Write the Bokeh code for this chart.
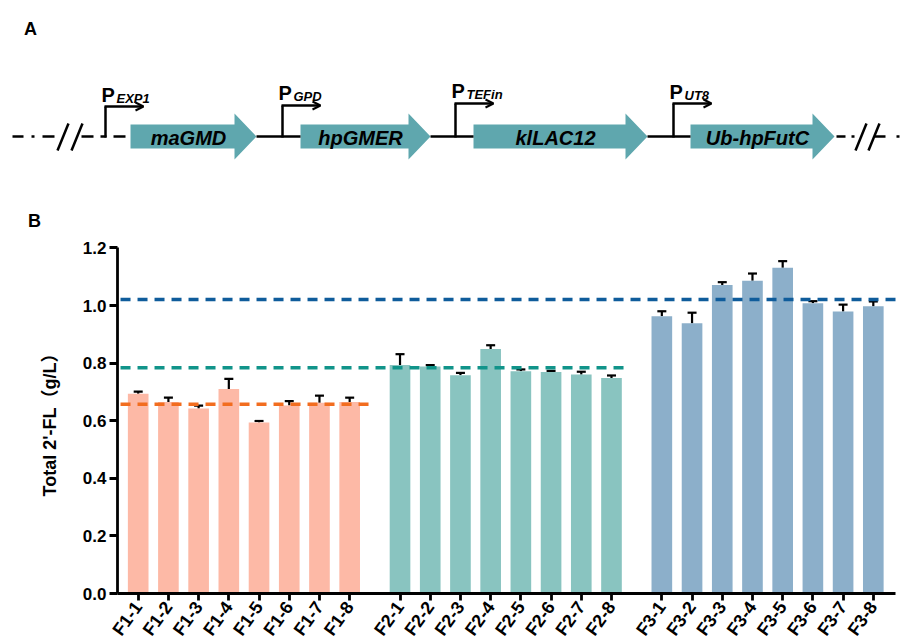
import math
from bokeh.plotting import figure
from bokeh.models import (ColumnDataSource, Range1d, FixedTicker, Whisker, TeeHead,
                          Arrow, OpenHead, PrintfTickFormatter, LinearAxis)
from bokeh.core.properties import value
from bokeh.embed import file_html
from bokeh.resources import INLINE

# ---------------- data ----------------
f1_labels = ["F1-1", "F1-2", "F1-3", "F1-4", "F1-5", "F1-6", "F1-7", "F1-8"]
f2_labels = ["F2-1", "F2-2", "F2-3", "F2-4", "F2-5", "F2-6", "F2-7", "F2-8"]
f3_labels = ["F3-1", "F3-2", "F3-3", "F3-4", "F3-5", "F3-6", "F3-7", "F3-8"]

f1_mean = [0.694, 0.665, 0.642, 0.710, 0.594, 0.653, 0.662, 0.665]
f1_err = [0.007, 0.015, 0.010, 0.035, 0.005, 0.015, 0.025, 0.015]
f2_mean = [0.793, 0.788, 0.758, 0.849, 0.772, 0.769, 0.760, 0.748]
f2_err = [0.038, 0.005, 0.008, 0.013, 0.006, 0.004, 0.010, 0.009]
f3_mean = [0.963, 0.938, 1.071, 1.086, 1.131, 1.008, 0.979, 0.997]
f3_err = [0.017, 0.037, 0.010, 0.025, 0.023, 0.007, 0.024, 0.017]

group_avg = [0.657, 0.784, 1.021]

genes = ["maGMD", "hpGMER", "klLAC12", "Ub-hpFutC"]
promoters = ["EXP1", "GPD", "TEFin", "UT8"]

y_ticks = [0.0, 0.2, 0.4, 0.6, 0.8, 1.0, 1.2]

# ---------------- styles / layout ----------------
FONT = "Liberation Sans"
LABEL_FONT = "'Liberation Sans', 'Noto Sans CJK SC'"
bar_colors = ["#FDB9A6", "#89C4C0", "#8CAFCA"]
line_colors = ["#F26D1F", "#11948A", "#0F5C9B"]
arrow_color = "#5FA7AE"

W, H = 906, 640

p = figure(width=W, height=H, x_range=Range1d(0, W), y_range=Range1d(H, 0),
           output_backend="svg", toolbar_location=None, min_border=0,
           x_axis_type=None, y_axis_type=None)
p.grid.visible = False
p.outline_line_color = None

# ---------------- panel A: construct diagram (canvas pixel space) ----------------
BY = 136  # backbone y
arrow_start = [130, 300, 473, 690]
arrow_tip = [256, 430, 647, 834]
prom_x = [105, 282, 455, 673]
prom_y = [106, 105, 103, 103]
p_base = [94, 92, 90, 91]
head_len = 22
shaft_h = 12
head_h = 23

xs, ys = [], []
for a, t in zip(arrow_start, arrow_tip):
    s = t - head_len
    xs.append([a, s, s, t, s, s, a])
    ys.append([BY - shaft_h, BY - shaft_h, BY - head_h, BY, BY + head_h, BY + shaft_h, BY + shaft_h])
p.patches(xs, ys, fill_color=arrow_color, line_color=None)

p.text(x=[(a + t) / 2 - 5 for a, t in zip(arrow_start, arrow_tip)], y=[BY + 1] * 4, text=genes,
       text_font=value(FONT), text_font_style="bold italic", text_font_size="20px",
       text_align="center", text_baseline="middle", text_color="black")

LW = 2.5
# backbone segments between genes
p.segment(x0=arrow_tip[:3], y0=[BY] * 3, x1=arrow_start[1:], y1=[BY] * 3, line_color="black", line_width=LW)

# left dash-dot / break
p.segment(x0=[12, 42, 81, 113, 100], y0=[BY] * 5, x1=[23, 54, 93, 125, 106], y1=[BY] * 5,
          line_color="black", line_width=LW)
p.segment(x0=[31], y0=[BY], x1=[34], y1=[BY], line_color="black", line_width=LW)
p.segment(x0=[57, 71], y0=[150, 150], x1=[68, 82], y1=[123, 123], line_color="black", line_width=LW)

# right dash-dot / break
p.segment(x0=[836, 874], y0=[BY] * 2, x1=[845, 885], y1=[BY] * 2, line_color="black", line_width=LW)
p.segment(x0=[851, 896], y0=[BY, BY], x1=[854, 899], y1=[BY, BY], line_color="black", line_width=LW)
p.segment(x0=[855, 868], y0=[150, 150], x1=[866, 879], y1=[123, 123], line_color="black", line_width=LW)

# promoters
p.segment(x0=prom_x, y0=[BY + 1] * 4, x1=prom_x, y1=prom_y, line_color="black", line_width=LW)
for px, py in zip(prom_x, prom_y):
    p.add_layout(Arrow(x_start=px - 1, y_start=py, x_end=px + 38, y_end=py,
                       line_color="black", line_width=LW,
                       end=OpenHead(size=8, line_width=2, line_color="black")))
p.text(x=[px - 4 for px in prom_x], y=p_base, text=["P"] * 4,
       text_font=value(FONT), text_font_style="bold", text_font_size="20px",
       text_align="left", text_baseline="alphabetic", text_color="black")
p.text(x=[px + 11 for px in prom_x], y=[b + 4 for b in p_base], text=promoters,
       text_font=value(FONT), text_font_style="bold italic", text_font_size="13px",
       text_align="left", text_baseline="alphabetic", text_color="black")

# panel letters
p.text(x=[30, 34], y=[28, 220], text=["A", "B"],
       text_font=value(FONT), text_font_style="bold", text_font_size="18px",
       text_align="center", text_baseline="middle", text_color="black")

# ---------------- panel B: bar chart (own ranges) ----------------
groups = [(f1_labels, f1_mean, f1_err), (f2_labels, f2_mean, f2_err), (f3_labels, f3_mean, f3_err)]
STEP = 3
GROUP_OFF = 26
xpos, labels, means, uppers, colors = [], [], [], [], []
for g, (lab, m, e) in enumerate(groups):
    for i in range(len(lab)):
        xpos.append(STEP * i + GROUP_OFF * g)
        labels.append(lab[i])
        means.append(m[i])
        uppers.append(m[i] + e[i])
        colors.append(bar_colors[g])
src = ColumnDataSource(dict(x=xpos, mean=means, upper=uppers, color=colors))

# pixel placement of the chart frame
X0_PX = 137.7          # pixel x of first bar
PX_PER_UNIT = 10.07    # pixels per x unit
Y0_PX = 593.0          # pixel y of value 0
PX_PER_VAL = 288.0     # pixels per 1.0
AX_LEFT_PX = 117.0
AX_RIGHT_PX = 895.0

p.extra_x_ranges = {"bx": Range1d(-X0_PX / PX_PER_UNIT, (W - X0_PX) / PX_PER_UNIT)}
p.extra_y_ranges = {"by": Range1d((Y0_PX - H) / PX_PER_VAL, Y0_PX / PX_PER_VAL)}
bx_left = (AX_LEFT_PX - X0_PX) / PX_PER_UNIT
bx_right = (AX_RIGHT_PX - X0_PX) / PX_PER_UNIT

p.vbar(x="x", top="mean", bottom=0, width=2.05, fill_color="color", line_color=None, source=src,
       x_range_name="bx", y_range_name="by")

last_pos = [STEP * (len(f1_labels) - 1) + GROUP_OFF * g for g in range(3)]
line_ends = [last_pos[0] + 1.9, last_pos[1] + 1.6, bx_right]
p.segment(x0=[bx_left + 0.3] * 3, y0=group_avg, x1=line_ends, y1=group_avg,
          line_color=line_colors, line_dash="10 7", line_width=3.5,
          x_range_name="bx", y_range_name="by")

p.add_layout(Whisker(source=src, base="x", lower="mean", upper="upper", dimension="height",
                     line_color="black", line_width=2.2,
                     upper_head=TeeHead(size=9, line_width=2.2, line_color="black"),
                     lower_head=None, x_range_name="bx", y_range_name="by"))

yax = LinearAxis(x_range_name="bx", y_range_name="by", fixed_location=bx_left, bounds=(0, 1.2))
xax = LinearAxis(x_range_name="bx", y_range_name="by", fixed_location=0, bounds=(bx_left, bx_right))
for ax in (xax, yax):
    ax.axis_line_width = 2.8
    ax.axis_line_color = "black"
    ax.major_tick_line_width = 2.8
    ax.major_tick_line_color = "black"
    ax.major_tick_in = 0
    ax.minor_tick_line_color = None
    ax.major_label_text_font = FONT
    ax.major_label_text_font_style = "bold"
    ax.major_label_text_color = "black"

yax.ticker = FixedTicker(ticks=y_ticks)
yax.formatter = PrintfTickFormatter(format="%.1f")
yax.major_tick_out = 8
yax.major_label_text_font_size = "17px"
yax.major_label_standoff = 3
yax.axis_label = "Total 2'-FL（g/L）"
yax.axis_label_text_font = LABEL_FONT
yax.axis_label_text_font_style = "bold"
yax.axis_label_text_font_size = "18px"
yax.axis_label_text_color = "black"
yax.axis_label_standoff = 20

xax.ticker = FixedTicker(ticks=xpos)
xax.major_label_overrides = {x: l for x, l in zip(xpos, labels)}
xax.major_label_orientation = 0.95
xax.major_tick_out = 7
xax.major_label_text_font_size = "18px"
xax.major_label_standoff = 3

p.add_layout(yax, "left")
p.add_layout(xax, "below")

open("out.html", "w").write(file_html(p, INLINE))
